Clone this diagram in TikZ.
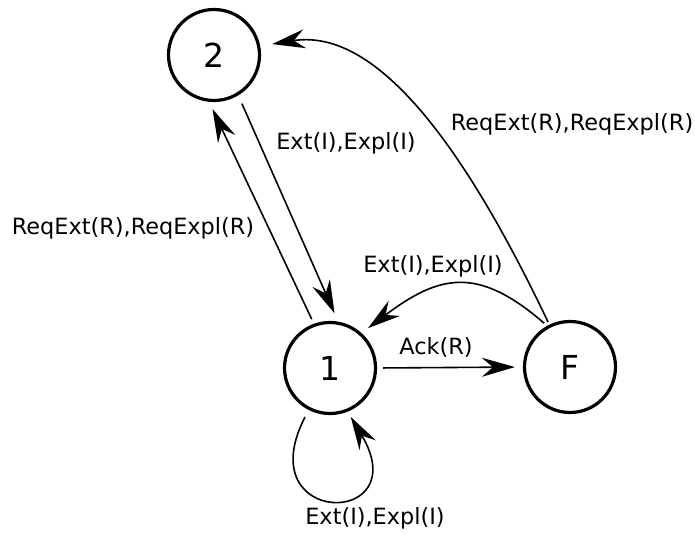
\documentclass[tikz,border=0pt]{standalone}
\usepackage{fontspec}
\setmainfont{DejaVu Sans}
\usetikzlibrary{arrows.meta}
\begin{document}
\begin{tikzpicture}[x=1pt,y=-1pt,
  state/.style={circle,draw,line width=3.2pt,minimum size=91pt,inner sep=0pt,
    font=\fontsize{33}{38}\selectfont},
  edge/.style={line width=1.6pt,-{Stealth[length=33pt,width=19pt,inset=11pt]}},
  lbl/.style={inner sep=0pt,font=\fontsize{22.4}{27}\selectfont}]
\useasboundingbox (0,0) rectangle (695,534);
\node[state] (n2) at (214,55) {2};
\node[state] (n1) at (330,368) {1};
\node[state] (nF) at (570,367) {F};

\draw[edge,shorten <=5pt,shorten >=8pt] (n1.110) -- (n2.264);
\draw[edge,shorten <=9pt,shorten >=9pt] (n2.-59) -- (n1.80);
\draw[edge,shorten <=6pt,shorten >=8pt] (n1.0) -- (nF.180);
\draw[edge,shorten <=4pt,shorten >=8pt] (nF.119) .. controls (478,266) and (440,274) .. (n1.48);
\draw[edge,shorten <=3pt,shorten >=12pt] (nF.116) .. controls (485,190) and (390,25) .. (n2.11);
\draw[edge,shorten <=8pt,shorten >=6pt] (n1.-117) .. controls (248,528) and (417,528) .. (n1.-68);

\node[lbl] (l1) at (346,143) {Ext(I),Expl(I)};
\node[lbl] (l2) at (133,228) {ReqExt(R),ReqExpl(R)};
\node[lbl] (l3) at (572,124) {ReqExt(R),ReqExpl(R)};
\node[lbl] (l4) at (433,266) {Ext(I),Expl(I)};
\node[lbl] (l5) at (436,347) {Ack(R)};
\node[lbl] (l6) at (375,518) {Ext(I),Expl(I)};
\end{tikzpicture}
\end{document}
